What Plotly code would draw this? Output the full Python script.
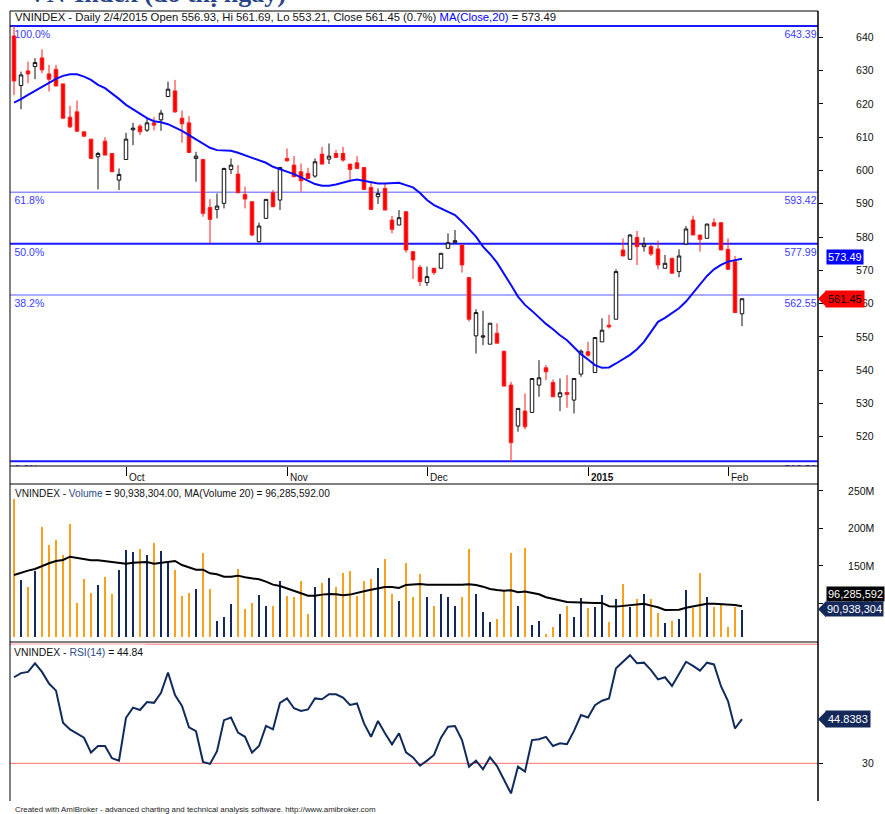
import plotly.graph_objects as go

# ---------------- data ----------------
OPEN = [640.4, 625.5, 629.9, 631.2, 633.8, 629.0, 630.4, 626.0, 616.0, 617.6,
        611.6, 609.4, 604.1, 608.8, 605.1, 597.1, 603.3, 612.2, 613.3, 612.1,
        614.3, 615.2, 622.2, 623.9, 615.7, 614.3, 603.6, 603.3, 588.9, 588.3,
        590.1, 600.3, 598.9, 592.8, 590.6, 578.6, 585.6, 593.3, 591.1, 603.6,
        601.6, 599.6, 599.1, 598.3, 604.9, 603.4, 605.1, 605.1, 601.9, 602.3,
        600.9, 594.9, 592.1, 594.6, 585.1, 583.6, 587.6, 575.6, 570.9, 566.3,
        570.6, 570.6, 576.6, 578.3, 577.6, 567.8, 550.3, 549.9, 547.8, 551.1,
        545.7, 535.5, 523.2, 527.7, 527.3, 535.5, 540.7, 536.3, 532.0, 533.3,
        531.0, 538.8, 545.5, 539.3, 548.5, 553.5, 555.3, 576.1, 573.3, 579.9,
        577.1, 577.1, 576.4, 570.6, 573.6, 569.6, 577.9, 585.1, 580.6, 579.6,
        584.3, 584.3, 576.3, 572.6, 556.93]
HIGH = [643.39, 629.7, 632.7, 633.7, 636.4, 631.7, 631.7, 626.0, 619.4, 621.0,
        611.6, 609.4, 605.6, 610.0, 605.1, 600.6, 611.3, 614.3, 613.9, 615.7,
        616.0, 618.2, 626.7, 627.2, 618.0, 616.3, 605.6, 603.3, 591.4, 593.1,
        600.8, 603.6, 601.6, 595.1, 590.6, 584.3, 591.3, 594.1, 600.9, 606.6,
        604.3, 602.1, 600.8, 603.6, 607.1, 608.1, 606.1, 607.1, 601.9, 604.3,
        600.9, 596.6, 594.6, 595.9, 586.3, 588.1, 587.6, 575.6, 571.6, 571.1,
        570.6, 575.1, 581.1, 582.1, 577.6, 567.8, 558.3, 557.8, 554.1, 554.1,
        545.7, 536.5, 528.5, 533.0, 537.5, 543.0, 541.5, 537.2, 537.5, 538.5,
        537.5, 546.2, 548.5, 549.8, 555.6, 556.6, 570.3, 579.6, 580.9, 581.8,
        579.9, 577.8, 578.9, 574.6, 573.6, 576.3, 583.3, 586.4, 580.6, 583.9,
        585.6, 584.3, 579.6, 574.3, 561.69]
LOW = [622.6, 618.4, 626.2, 627.4, 629.2, 623.7, 625.2, 615.5, 612.7, 611.6,
       610.1, 603.6, 594.3, 604.6, 599.6, 594.1, 603.3, 607.6, 610.6, 611.6,
       612.0, 611.9, 622.0, 617.3, 608.3, 605.4, 596.6, 586.1, 578.1, 585.6,
       588.6, 598.9, 593.3, 588.6, 580.3, 578.3, 585.6, 589.1, 588.1, 602.6,
       598.1, 593.6, 597.6, 597.8, 601.9, 601.9, 603.9, 602.6, 597.1, 600.6,
       594.3, 588.3, 589.9, 588.1, 581.1, 583.6, 575.3, 567.4, 565.3, 565.3,
       568.6, 570.6, 576.6, 578.3, 569.3, 554.6, 545.0, 547.5, 547.8, 548.1,
       535.2, 512.59, 521.5, 522.2, 527.3, 532.0, 537.0, 532.0, 527.7, 528.7,
       527.0, 538.0, 544.0, 539.3, 548.5, 552.5, 555.3, 574.3, 573.1, 571.6,
       575.6, 574.3, 570.3, 570.6, 569.1, 567.9, 577.6, 580.6, 575.6, 579.6,
       583.3, 576.1, 570.3, 557.3, 553.21]
CLOSE = [626.9, 628.7, 629.0, 632.4, 630.2, 627.4, 625.4, 615.7, 613.1, 611.8,
         610.3, 603.6, 605.1, 604.6, 599.6, 598.8, 609.4, 612.7, 611.6, 614.3,
         613.6, 617.2, 624.4, 617.6, 614.0, 605.4, 604.3, 587.1, 585.3, 589.3,
         600.6, 601.6, 593.3, 591.4, 580.6, 583.3, 591.3, 589.1, 600.9, 602.9,
         598.1, 596.9, 597.6, 602.6, 601.9, 604.3, 603.9, 603.1, 600.3, 600.6,
         594.3, 588.3, 593.1, 588.1, 582.3, 585.8, 576.1, 573.1, 566.6, 568.1,
         569.3, 575.1, 578.3, 578.9, 571.6, 555.3, 557.3, 550.3, 554.1, 548.1,
         535.2, 518.2, 528.5, 523.0, 537.5, 537.7, 539.5, 532.0, 533.2, 532.7,
         537.5, 545.7, 544.5, 549.8, 552.0, 553.0, 569.6, 574.3, 580.6, 577.1,
         577.9, 574.9, 571.6, 572.1, 569.1, 574.3, 582.4, 580.6, 579.3, 583.9,
         583.3, 576.1, 570.3, 557.3, 561.45]
MA20 = [620.4, 621.4, 622.7, 623.9, 625.2, 626.4, 627.5, 628.4, 628.9, 628.9,
        628.2, 627.2, 625.7, 624.7, 623.2, 621.5, 619.7, 618.4, 616.9, 615.7,
        614.8, 614.5, 613.9, 612.9, 611.9, 610.6, 609.4, 608.1, 606.8, 606.1,
        606.1, 605.9, 605.3, 604.6, 603.8, 603.1, 602.3, 601.1, 600.4, 599.6,
        598.9, 597.9, 596.8, 595.9, 595.4, 595.4, 595.8, 596.4, 596.9, 597.3,
        596.9, 596.4, 596.1, 596.1, 596.3, 596.3, 595.6, 594.9, 593.2, 591.1,
        589.6, 588.6, 587.8, 586.6, 584.6, 582.4, 580.1, 577.1, 574.9, 572.3,
        569.1, 565.6, 562.1, 559.6, 557.8, 555.8, 553.9, 552.3, 550.5, 549.0,
        547.0, 544.8, 543.2, 541.5, 540.7, 540.8, 542.0, 543.2, 544.6, 546.3,
        548.5, 551.5, 554.5, 555.7, 557.1, 558.6, 560.6, 563.1, 565.6, 568.3,
        570.3, 571.6, 572.6, 573.1, 573.49]
VOLUME_M = [239.3, 131.3, 122.4, 143.8, 202.4, 178.0, 184.7, 164.7, 206.0, 101.1,
            132.7, 113.6, 124.2, 135.3, 112.7, 144.7, 170.9, 168.2, 172.2, 164.7,
            181.1, 169.6, 157.1, 144.7, 110.0, 114.4, 119.3, 166.9, 119.8, 76.7,
            81.6, 99.3, 145.6, 93.1, 101.1, 111.3, 96.7, 96.7, 130.4, 110.0,
            109.1, 130.4, 86.0, 121.6, 127.8, 134.0, 122.4, 140.2, 143.3, 110.0,
            130.4, 132.7, 147.8, 159.3, 112.7, 103.8, 154.4, 109.1, 139.3, 109.1,
            96.7, 112.7, 108.3, 96.7, 108.3, 172.2, 112.7, 88.7, 75.3, 78.9,
            116.7, 167.3, 96.7, 173.6, 71.3, 77.1, 58.9, 69.1, 86.0, 96.7,
            81.6, 107.8, 94.4, 95.8, 111.3, 75.3, 105.6, 125.6, 95.8, 106.4,
            112.7, 105.6, 87.8, 73.6, 77.1, 78.9, 118.0, 94.4, 140.2, 109.1,
            95.8, 99.3, 69.1, 95.8, 90.938304]
VOL_MA20_M = [138.0, 141.1, 143.8, 146.0, 150.0, 153.6, 156.7, 158.0, 162.4, 161.1,
              159.8, 157.6, 157.6, 156.7, 155.3, 154.0, 153.1, 154.4, 155.3, 155.3,
              153.1, 154.4, 155.7, 156.7, 151.3, 147.8, 145.1, 145.1, 140.2, 138.9,
              135.7, 135.7, 137.1, 134.9, 133.6, 132.2, 129.1, 125.1, 123.3, 119.8,
              116.7, 113.6, 110.4, 110.4, 111.8, 112.7, 112.2, 110.9, 111.8, 113.6,
              116.2, 118.4, 120.2, 122.0, 122.0, 120.7, 124.7, 125.6, 126.0, 125.1,
              125.1, 125.0, 124.5, 124.2, 125.1, 125.6, 124.7, 122.4, 119.3, 118.0,
              117.1, 117.6, 114.9, 115.8, 113.6, 112.2, 108.3, 106.4, 103.8, 102.0,
              101.6, 101.1, 100.7, 100.7, 100.7, 96.3, 95.8, 96.7, 98.0, 99.3,
              99.7, 97.1, 94.9, 91.3, 91.7, 91.7, 94.4, 96.3, 98.4, 99.7,
              99.7, 99.3, 98.9, 98.0, 96.285592]
RSI14 = [58.9, 60.3, 60.7, 63.6, 60.7, 56.8, 54.4, 43.6, 41.4, 40.1,
         38.6, 33.6, 35.8, 35.8, 31.7, 30.9, 45.3, 48.7, 47.9, 50.6,
         50.3, 53.7, 60.5, 52.9, 49.3, 42.1, 40.8, 30.5, 29.8, 34.1,
         44.5, 45.4, 40.3, 38.9, 33.6, 35.8, 42.6, 41.4, 50.3, 51.8,
         48.5, 47.6, 48.1, 51.8, 51.5, 53.2, 53.2, 52.1, 49.6, 50.1,
         43.4, 38.9, 44.2, 40.1, 36.4, 40.1, 33.7, 32.0, 29.2, 30.9,
         32.8, 38.6, 42.3, 42.5, 37.8, 28.9, 30.9, 28.0, 32.0, 29.1,
         24.4, 19.9, 28.9, 27.2, 37.8, 38.1, 38.9, 35.8, 36.7, 36.4,
         40.9, 46.2, 45.4, 49.5, 51.0, 51.8, 61.9, 64.1, 66.3, 63.6,
         63.8, 61.3, 58.2, 58.9, 56.0, 60.0, 64.1, 62.7, 61.1, 63.8,
         63.2, 55.9, 50.9, 41.7, 44.8383]

BAR_INDEX = list(range(len(CLOSE)))          # trading-day index (9 Sep 2014 .. 4 Feb 2015)
MONTH_TICK_INDEX = [16, 39, 59, 82, 102]
MONTH_TICK_TEXT = ["Oct", "Nov", "Dec", "<b>2015</b>", "Feb"]
FIB_PCT = ["100.0%", "61.8%", "50.0%", "38.2%", "0.0%"]
FIB_LEVEL = [643.39, 593.42, 577.99, 562.55, 512.59]
PRICE_TICKS = [520, 530, 540, 550, 560, 570, 580, 590, 600, 610, 620, 630, 640]
VOL_TICKS_M = [100, 150, 200, 250]
RSI_TICKS = [30]
RSI_BANDS = [30, 70]

# ---------------- layout helpers ----------------
W, H = 885, 814
PL, PR = 10, 818                      # plot left/right pixels
PX_PER_BAR = 7.0                      # horizontal pixels per bar
PX_PER_POINT = 3.328                  # vertical pixels per index point


def py(pix):                          # pixel row -> paper y
    return 1 - pix / H


def px(pix):                          # pixel column -> paper x
    return (pix - PL) / (PR - PL)


FONT = "Liberation Sans, Arial, sans-serif"
X_RANGE = [-0.5714, 114.857]

up = [c >= o for o, c in zip(OPEN, CLOSE)]
vol = [v * 1e6 for v in VOLUME_M]
vol_ma = [v * 1e6 for v in VOL_MA20_M]
vol_colors = ["#14285a" if u else "#f7a11f" for u in up]

fig = go.Figure()

fig.add_trace(go.Candlestick(
    x=BAR_INDEX, open=OPEN, high=HIGH, low=LOW, close=CLOSE,
    increasing=dict(line=dict(color="#111111", width=1), fillcolor="white"),
    decreasing=dict(line=dict(color="#ff1a1a", width=1), fillcolor="#ff0000"),
    whiskerwidth=0, xaxis="x", yaxis="y", showlegend=False, hoverinfo="skip"))

fig.add_trace(go.Scatter(x=BAR_INDEX, y=MA20, mode="lines",
                         line=dict(color="#0a0aff", width=2),
                         xaxis="x", yaxis="y", showlegend=False, hoverinfo="skip"))

# fibonacci labels (clipped to the price pane like the original)
fib_font = dict(family=FONT, size=10.5, color="#3a3aff")
lab_dy = 4.2 / PX_PER_POINT
fig.add_trace(go.Scatter(x=[X_RANGE[0] + 4.5 / PX_PER_BAR] * len(FIB_LEVEL),
                         y=[v - lab_dy for v in FIB_LEVEL], text=FIB_PCT,
                         mode="text", textposition="bottom right", textfont=fib_font,
                         xaxis="x", yaxis="y", showlegend=False, hoverinfo="skip",
                         cliponaxis=True))
fig.add_trace(go.Scatter(x=[X_RANGE[1] - 1.5 / PX_PER_BAR] * len(FIB_LEVEL),
                         y=[v - lab_dy for v in FIB_LEVEL],
                         text=[f"{v:.2f}" for v in FIB_LEVEL],
                         mode="text", textposition="bottom left", textfont=fib_font,
                         xaxis="x", yaxis="y", showlegend=False, hoverinfo="skip",
                         cliponaxis=True))

fig.add_trace(go.Bar(x=BAR_INDEX, y=vol, marker=dict(color=vol_colors, line=dict(width=0)),
                     width=0.3, xaxis="x2", yaxis="y2", showlegend=False, hoverinfo="skip"))
fig.add_trace(go.Scatter(x=BAR_INDEX, y=vol_ma, mode="lines",
                         line=dict(color="black", width=2),
                         xaxis="x2", yaxis="y2", showlegend=False, hoverinfo="skip"))

fig.add_trace(go.Scatter(x=BAR_INDEX, y=RSI14, mode="lines",
                         line=dict(color="#112a5c", width=2),
                         xaxis="x3", yaxis="y3", showlegend=False, hoverinfo="skip"))

shapes = []
for i, lv in enumerate(FIB_LEVEL):
    strong = FIB_PCT[i] in ("100.0%", "50.0%", "0.0%")
    shapes.append(dict(type="line", xref="paper", x0=0, x1=1, yref="y", y0=lv, y1=lv,
                       line=dict(color="#1a1aff" if strong else "#8f8fff",
                                 width=2 if strong else 1.5), layer="below"))
for lv in RSI_BANDS:
    shapes.append(dict(type="line", xref="paper", x0=0, x1=1, yref="y3", y0=lv, y1=lv,
                       line=dict(color="#ff6f6f", width=1), layer="below"))

frame = dict(color="black", width=1)
for row in (11, 466, 484, 642):
    shapes.append(dict(type="line", xref="paper", yref="paper", x0=0, x1=1,
                       y0=py(row), y1=py(row), line=frame))
shapes.append(dict(type="line", xref="paper", yref="paper", x0=0, x1=0,
                   y0=py(11), y1=py(801), line=frame))
shapes.append(dict(type="line", xref="paper", yref="paper", x0=1, x1=1,
                   y0=py(11), y1=py(801), line=dict(color="black", width=1.5)))


# arrow heads of the value markers
def arrow(yref, yval, color, yshift=0):
    return dict(type="path", xref="paper", xsizemode="pixel", xanchor=1,
                yref=yref, ysizemode="pixel", yanchor=yval,
                path=f"M 0 {yshift} L 8 {yshift + 8} L 8 {yshift - 8} Z",
                fillcolor=color, line=dict(width=0))


shapes.append(arrow("y", CLOSE[-1], "#ff0000"))
shapes.append(arrow("y2", vol[-1], "#14285a", 1))
shapes.append(arrow("y3", RSI14[-1], "#14285a"))

ann = []


def tfont(size):
    return dict(family=FONT, size=size, color="#111111")


ann.append(dict(xref="paper", yref="paper", x=px(13), y=py(17), xanchor="left", yanchor="middle",
                showarrow=False, font=tfont(11.3),
                text=(f"VNINDEX - Daily 2/4/2015 Open {OPEN[-1]:.2f}, Hi {HIGH[-1]:.2f}, "
                      f"Lo {LOW[-1]:.2f}, Close {CLOSE[-1]:.2f} (0.7%) "
                      f"<span style='color:#0000ff'>MA(Close,20)</span> = {MA20[-1]:.2f}")))
ann.append(dict(xref="paper", yref="paper", x=px(13), y=py(493), xanchor="left", yanchor="middle",
                showarrow=False, font=tfont(10.1),
                text=(f"VNINDEX - <span style='color:#2a4a85'>Volume</span> = {vol[-1]:,.2f}, "
                      f"MA(Volume 20) = {vol_ma[-1]:,.2f}")))
ann.append(dict(xref="paper", yref="paper", x=px(11), y=py(643.5), xanchor="left", yanchor="top",
                showarrow=False, font=tfont(10.4), bgcolor="white", borderpad=2,
                text=f"VNINDEX - <span style='color:#2a4a85'>RSI(14)</span> = {RSI14[-1]:.2f}"))
ann.append(dict(xref="paper", yref="paper", x=px(13), y=py(809), xanchor="left", yanchor="middle",
                showarrow=False, font=dict(family=FONT, size=7.9, color="#222222"),
                text="Created with AmiBroker - advanced charting and technical analysis software. "
                     "http://www.amibroker.com"))
ann.append(dict(xref="paper", yref="paper", x=px(26), y=py(-7), xanchor="left", yanchor="middle",
                showarrow=False,
                font=dict(family="Liberation Serif, Times New Roman, serif", size=26, color="#2a4585"),
                text="<b>VN-Index (đồ thị ngày)</b>"))

for ti, tt in zip(MONTH_TICK_INDEX, MONTH_TICK_TEXT):
    ann.append(dict(xref="x", yref="paper", x=ti, y=py(477), xanchor="left", yanchor="middle",
                    xshift=1, showarrow=False, font=tfont(10), text=tt))

lab = dict(family=FONT, size=11)
ann.append(dict(xref="paper", yref="y", x=1, y=MA20[-1], xanchor="left", yanchor="middle",
                xshift=8, yshift=2, showarrow=False, bgcolor="#0000ff", borderpad=1,
                font=dict(lab, color="white"), text=f"{MA20[-1]:.2f}"))
ann.append(dict(xref="paper", yref="y", x=1, y=CLOSE[-1], xanchor="left", yanchor="middle",
                xshift=7, showarrow=False, bgcolor="#ff0000", borderpad=2,
                font=dict(lab, color="black"), text=f"{CLOSE[-1]:.2f}"))
ann.append(dict(xref="paper", yref="y2", x=1, y=vol_ma[-1], xanchor="left", yanchor="middle",
                xshift=8, yshift=12.5, showarrow=False, bgcolor="black", borderpad=1,
                font=dict(lab, color="white"), text=f"{vol_ma[-1]:,.0f}"))
ann.append(dict(xref="paper", yref="y2", x=1, y=vol[-1], xanchor="left", yanchor="middle",
                xshift=7, yshift=1.5, showarrow=False, bgcolor="#14285a", borderpad=1,
                font=dict(lab, color="white"), text=f"{vol[-1]:,.0f}"))
ann.append(dict(xref="paper", yref="y3", x=1, y=RSI14[-1], xanchor="left", yanchor="middle",
                xshift=7, showarrow=False, bgcolor="#14285a", borderpad=2,
                font=dict(lab, color="white"), text=f"{RSI14[-1]:.4f}"))

tick_font = dict(family=FONT, size=10.5, color="#111111")
axis_common = dict(showgrid=False, zeroline=False, automargin=False, fixedrange=True)
fig.update_layout(
    width=W, height=H, margin=dict(l=PL, r=W - PR, t=0, b=0),
    paper_bgcolor="white", plot_bgcolor="white", showlegend=False,
    bargap=0, boxgap=0.28,
    xaxis=dict(domain=[0, 1], range=X_RANGE, anchor="y", rangeslider=dict(visible=False),
               tickvals=MONTH_TICK_INDEX, ticks="outside", ticklen=9, tickcolor="black",
               showticklabels=False, showline=False, **axis_common),
    xaxis2=dict(domain=[0, 1], range=X_RANGE, anchor="y2", visible=False, **axis_common),
    xaxis3=dict(domain=[0, 1], range=X_RANGE, anchor="y3", visible=False, **axis_common),
    yaxis=dict(domain=[py(466), py(11)], range=[511.2, 647.9], side="right", anchor="x",
               tickvals=PRICE_TICKS, ticks="outside", ticklen=4, tickcolor="black",
               tickfont=tick_font, ticklabelstandoff=31, showline=False, **axis_common),
    yaxis2=dict(domain=[py(637), py(484)], range=[55.3e6, 259.3e6], side="right", anchor="x2",
                tickvals=[v * 1e6 for v in VOL_TICKS_M], ticktext=[f"{v}M" for v in VOL_TICKS_M],
                ticks="outside", ticklen=4, tickcolor="black", tickfont=tick_font,
                ticklabelstandoff=23, showline=False, **axis_common),
    yaxis3=dict(domain=[py(801), py(643)], range=[17.35, 70.4], side="right", anchor="x3",
                tickvals=RSI_TICKS, ticks="outside", ticklen=4, tickcolor="black",
                tickfont=tick_font, ticklabelstandoff=37, showline=False, **axis_common),
    shapes=shapes, annotations=ann,
)

fig.write_html("out.html", config={"displayModeBar": False, "staticPlot": True},
               post_script="document.body.style.margin='0';document.body.style.overflow='hidden';")
